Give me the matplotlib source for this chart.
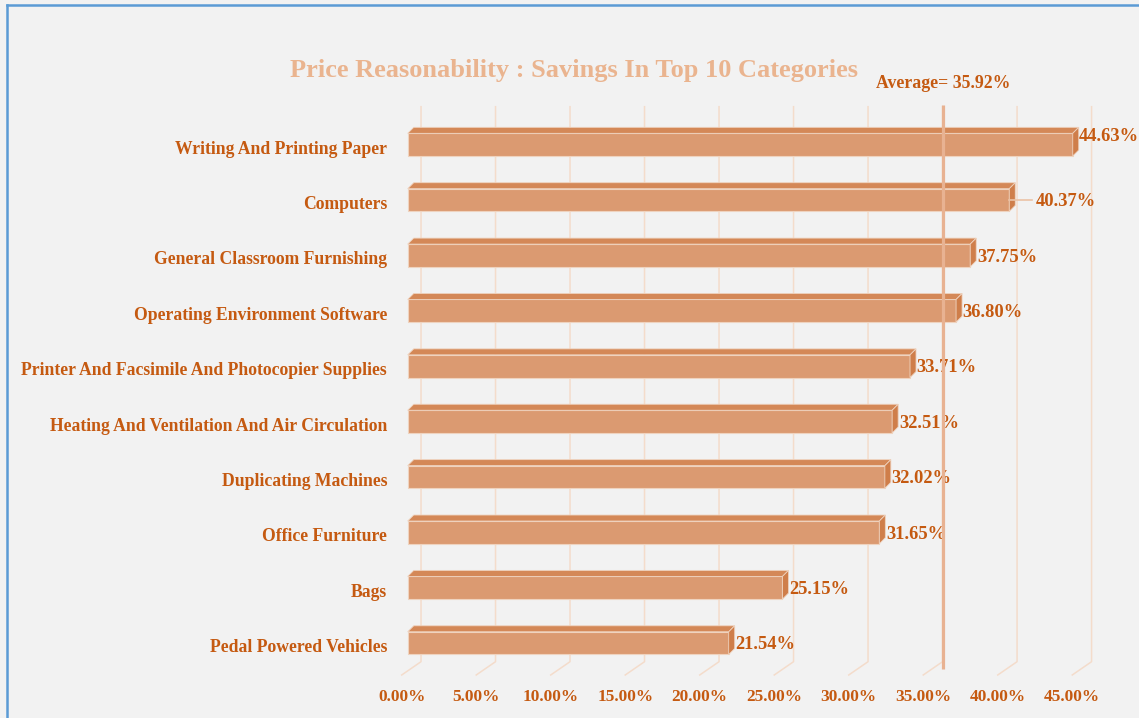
import matplotlib.pyplot as plt
from matplotlib.patches import Polygon
from matplotlib.lines import Line2D

plt.rcParams['font.family'] = ['Liberation Serif', 'DejaVu Serif']
plt.rcParams['font.weight'] = 'bold'

categories = ['Writing And Printing Paper', 'Computers', 'General Classroom Furnishing',
              'Operating Environment Software', 'Printer And Facsimile And Photocopier Supplies',
              'Heating And Ventilation And Air Circulation', 'Duplicating Machines',
              'Office Furniture', 'Bags', 'Pedal Powered Vehicles']
savings = [44.63, 40.37, 37.75, 36.80, 33.71, 32.51, 32.02, 31.65, 25.15, 21.54]
average = 35.92
ticks = [0, 5, 10, 15, 20, 25, 30, 35, 40, 45]

dark = '#C55A11'
front_c = '#DB9A71'
top_c = '#D48857'
side_c = '#CF7E4A'
grid_c = '#F4DCCB'

fig = plt.figure(figsize=(11.39, 7.18), dpi=100)
fig.patch.set_facecolor('#F2F2F2')

# plot area, x in %, y = category index (0 at top)
ax = fig.add_axes([0.3318, 0.0117, 0.6672, 0.9025])
ax.set_xlim(-2, 49)
ax.set_ylim(10.2, -1.5)
ax.axis('off')

# pixel -> data helpers for the fake 3d depth
px_x = 759.9 / 51.0
px_y = 648.0 / 11.7
dx = 6 / px_x
dy = 6 / px_y
h = 22.7 / px_y

# gridlines: back wall + floor diagonal
for t in ticks:
    xb = t + 13.3 / px_x
    xf = t - 6 / px_x
    ax.plot([xb, xb, xf], [-0.686, 9.335, 9.575], color=grid_c, lw=1.1, zorder=1)
    ax.text(xf, 9.575 + 22 / px_y, '%.2f%%' % t, ha='center', va='center',
            color=dark, fontsize=12.4)

# bars
for i, v in enumerate(savings):
    y0 = i - h / 2
    y1 = i + h / 2
    ax.barh(i, v, height=h, left=0, color=front_c, edgecolor='#EFD3BF', lw=0.8, zorder=3)
    ax.add_patch(Polygon([(0, y0), (dx, y0 - dy), (v + dx, y0 - dy), (v, y0)],
                         closed=True, facecolor=top_c, edgecolor='#EFD3BF', lw=0.6, zorder=3))
    ax.add_patch(Polygon([(v, y0), (v + dx, y0 - dy), (v + dx, y1 - dy), (v, y1)],
                         closed=True, facecolor=side_c, edgecolor='#EFD3BF', lw=0.6, zorder=3))
    ax.text(-20.7 / px_x, i + 4.5 / px_y, categories[i], ha='right', va='center',
            color=dark, fontsize=12.7)
    lab = '%.2f%%' % v
    if i == 1:
        ax.plot([v, v + 1.52], [i, i], color='#EBC3A6', lw=1.2, zorder=4)
        ax.text(v + 1.78, i + 0.02, lab, ha='left', va='center', color=dark, fontsize=13.3, zorder=4)
    elif i == 0:
        ax.text(v + 0.4, i - 0.15, lab, ha='left', va='center', color=dark, fontsize=13.3, zorder=4)
    else:
        ax.text(v + 0.45, i + 0.03, lab, ha='left', va='center', color=dark, fontsize=13.3, zorder=4)

# average line
ax.plot([average, average], [-0.715, 9.47], color='#E8B292', lw=2.3, zorder=6,
        solid_capstyle='butt')
ax.text(average, -1.096, 'Average= %.2f%%' % average, ha='center', va='center',
        color=dark, fontsize=12.8)

fig.text(574 / 1139, 1 - 71 / 718, 'Price Reasonability : Savings In Top 10 Categories',
         ha='center', va='center', color='#EAB48F', fontsize=19)

# blue frame (left and top only visible)
fig.add_artist(Line2D([7 / 1139, 7 / 1139], [0, 1 - 5 / 718], color='#5B9BD5', lw=1.8,
                      transform=fig.transFigure))
fig.add_artist(Line2D([7 / 1139, 1], [1 - 5 / 718, 1 - 5 / 718], color='#5B9BD5', lw=1.8,
                      transform=fig.transFigure))

fig.savefig('out.png', dpi=100, facecolor=fig.get_facecolor())
